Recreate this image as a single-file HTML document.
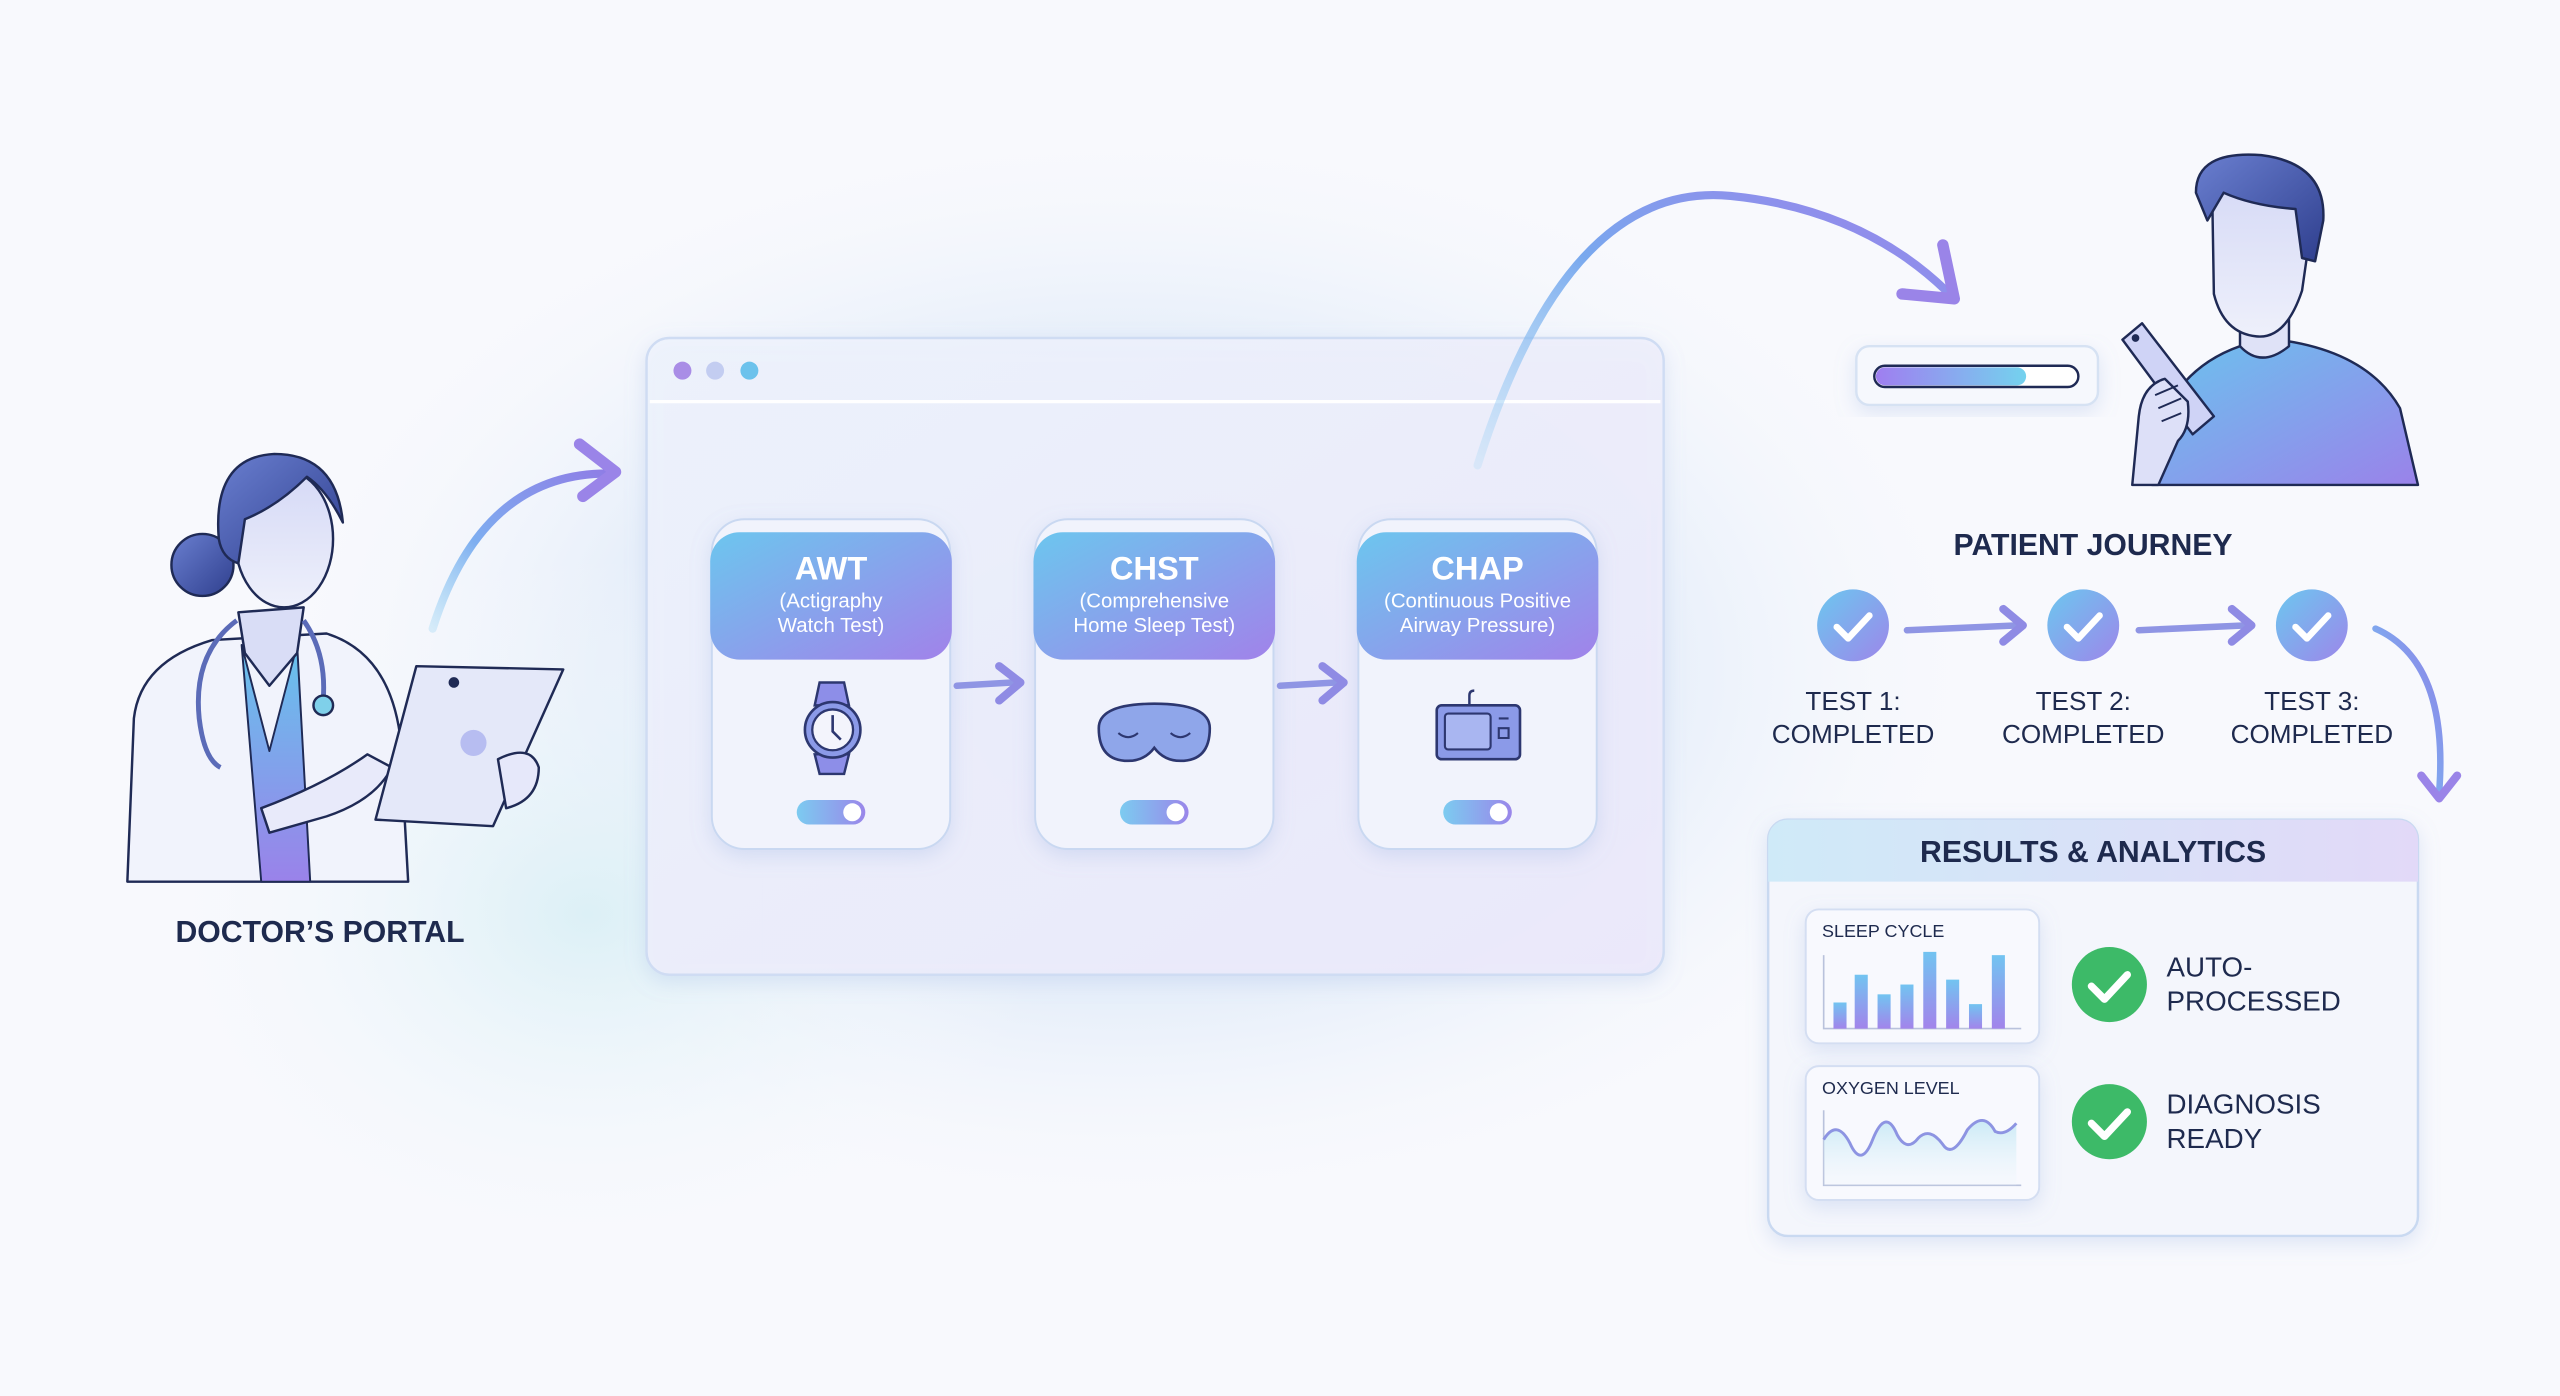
<!DOCTYPE html>
<html><head><meta charset="utf-8"><style>
html,body{margin:0;padding:0;background:#f8f9fd;}
svg{display:block;}
text{font-family:"Liberation Sans",sans-serif;}
</style></head><body>
<svg width="2560" height="1396" viewBox="0 0 1568 855" xmlns="http://www.w3.org/2000/svg">
<defs>
<radialGradient id="glow1" cx="0.5" cy="0.5" r="0.5">
<stop offset="0" stop-color="#d6e7f8" stop-opacity="1"/><stop offset="0.6" stop-color="#e2ecf9" stop-opacity="0.75"/><stop offset="1" stop-color="#f8f9fd" stop-opacity="0"/></radialGradient>
<radialGradient id="glow2" cx="0.5" cy="0.5" r="0.5">
<stop offset="0" stop-color="#dcf0f6" stop-opacity="1"/><stop offset="1" stop-color="#f8f9fd" stop-opacity="0"/></radialGradient>
<linearGradient id="hdr" x1="0" y1="0" x2="1" y2="1"><stop offset="0" stop-color="#6cc6ee"/><stop offset="1" stop-color="#a182ea"/></linearGradient>
<linearGradient id="tog" x1="0" y1="0" x2="1" y2="0"><stop offset="0" stop-color="#7ccbf0"/><stop offset="1" stop-color="#9a86ea"/></linearGradient>
<linearGradient id="prog" x1="0" y1="0" x2="1" y2="0"><stop offset="0" stop-color="#9f7ef0"/><stop offset="1" stop-color="#74d2ee"/></linearGradient>
<linearGradient id="arrowG" x1="0" y1="1" x2="1" y2="0"><stop offset="0" stop-color="#8fd0f3" stop-opacity="0.3"/><stop offset="0.4" stop-color="#7eaef0"/><stop offset="1" stop-color="#8e7ee6"/></linearGradient>
<linearGradient id="arcG" x1="0" y1="1" x2="1" y2="0"><stop offset="0" stop-color="#8fcff3" stop-opacity="0.2"/><stop offset="0.5" stop-color="#79a8ee"/><stop offset="1" stop-color="#9a82ea"/></linearGradient>
<linearGradient id="resHdr" x1="0" y1="0" x2="1" y2="0"><stop offset="0" stop-color="#cfeaf8"/><stop offset="1" stop-color="#e2d9f8"/></linearGradient>
<linearGradient id="bar" x1="0" y1="0" x2="0" y2="1"><stop offset="0" stop-color="#72c4f1"/><stop offset="1" stop-color="#a284eb"/></linearGradient>
<linearGradient id="chk" x1="0" y1="0" x2="1" y2="1"><stop offset="0" stop-color="#6cc7ef"/><stop offset="1" stop-color="#9d86ea"/></linearGradient>
<linearGradient id="shirt" x1="0" y1="0" x2="1" y2="1"><stop offset="0" stop-color="#6ac4ee"/><stop offset="1" stop-color="#9a82ea"/></linearGradient>
<linearGradient id="face" x1="0" y1="0" x2="0" y2="1"><stop offset="0" stop-color="#d5d9f6"/><stop offset="1" stop-color="#eef0fb"/></linearGradient>
<linearGradient id="hair" x1="0" y1="0" x2="1" y2="1"><stop offset="0" stop-color="#6a7fd0"/><stop offset="1" stop-color="#2f3f8e"/></linearGradient>
<linearGradient id="scrub" x1="0" y1="0" x2="0" y2="1"><stop offset="0" stop-color="#66c3ec"/><stop offset="1" stop-color="#9a82ea"/></linearGradient>
<linearGradient id="wave" x1="0" y1="0" x2="0" y2="1"><stop offset="0" stop-color="#bfe6f4" stop-opacity="0.8"/><stop offset="1" stop-color="#eef6fb" stop-opacity="0.2"/></linearGradient>
<linearGradient id="win" x1="0" y1="0" x2="1" y2="1"><stop offset="0" stop-color="#eef3fc"/><stop offset="1" stop-color="#ece9fa"/></linearGradient>
<filter id="sh" x="-20%" y="-20%" width="140%" height="140%"><feDropShadow dx="0" dy="4" stdDeviation="6" flood-color="#8aa6dc" flood-opacity="0.25"/></filter>
</defs>
<rect width="1568" height="855" fill="#f8f9fd"/>
<ellipse cx="690" cy="410" rx="540" ry="340" fill="url(#glow1)"/>
<ellipse cx="360" cy="560" rx="280" ry="220" fill="url(#glow2)"/>

<!-- Browser -->
<rect x="396" y="207" width="623" height="390" rx="14" fill="url(#win)" fill-opacity="0.9" stroke="#cfdcf3" stroke-width="1.5" filter="url(#sh)"/>
<line x1="398" y1="246" x2="1017" y2="246" stroke="#ffffff" stroke-width="2"/>
<circle cx="418" cy="227" r="5.5" fill="#a98de6"/>
<circle cx="438" cy="227" r="5.5" fill="#c3cdf1"/>
<circle cx="459" cy="227" r="5.5" fill="#6cc2ec"/>

<!-- Cards -->
<g>
<rect x="436" y="318" width="146" height="202" rx="20" fill="#f1f3fc" stroke="#c9d8f1" stroke-width="1.2" filter="url(#sh)"/>
<rect x="435" y="326" width="148" height="78" rx="18" fill="url(#hdr)"/>
<text x="509" y="355" text-anchor="middle" font-size="20" font-weight="bold" fill="#fff">AWT</text>
<text x="509" y="372" text-anchor="middle" font-size="12.5" fill="#fff">(Actigraphy</text>
<text x="509" y="387" text-anchor="middle" font-size="12.5" fill="#fff">Watch Test)</text>
<rect x="488" y="490" width="42" height="15" rx="7.5" fill="url(#tog)"/><circle cx="522" cy="497.5" r="5.5" fill="#fff"/>
<path d="M502 418 h15 l3 14 h-21z M499 462 h21 l-3 12 h-15z" fill="#8d8ee8" stroke="#2d3770" stroke-width="1.5"/>
<circle cx="510" cy="447" r="17" fill="#8b9ae8" stroke="#2d3770" stroke-width="1.6"/>
<circle cx="510" cy="447" r="12.5" fill="#f3f4fc" stroke="#2d3770" stroke-width="1.4"/>
<path d="M510 438 v10 l5 5" fill="none" stroke="#2d3770" stroke-width="1.6"/>
</g>
<g>
<rect x="634" y="318" width="146" height="202" rx="20" fill="#f1f3fc" stroke="#c9d8f1" stroke-width="1.2" filter="url(#sh)"/>
<rect x="633" y="326" width="148" height="78" rx="18" fill="url(#hdr)"/>
<text x="707" y="355" text-anchor="middle" font-size="20" font-weight="bold" fill="#fff">CHST</text>
<text x="707" y="372" text-anchor="middle" font-size="12.5" fill="#fff">(Comprehensive</text>
<text x="707" y="387" text-anchor="middle" font-size="12.5" fill="#fff">Home Sleep Test)</text>
<rect x="686" y="490" width="42" height="15" rx="7.5" fill="url(#tog)"/><circle cx="720" cy="497.5" r="5.5" fill="#fff"/>
<path d="M673 446 q0 -15 34 -15 q34 0 34 15 q0 20 -18 20 q-10 0 -16 -8 q-6 8 -16 8 q-18 0 -18 -20z" fill="#8fa6ea" stroke="#2d3770" stroke-width="1.6"/>
<path d="M685 449 q6 5 12 0 M717 449 q6 5 12 0" fill="none" stroke="#2d3770" stroke-width="1.3"/>
</g>
<g>
<rect x="832" y="318" width="146" height="202" rx="20" fill="#f1f3fc" stroke="#c9d8f1" stroke-width="1.2" filter="url(#sh)"/>
<rect x="831" y="326" width="148" height="78" rx="18" fill="url(#hdr)"/>
<text x="905" y="355" text-anchor="middle" font-size="20" font-weight="bold" fill="#fff">CHAP</text>
<text x="905" y="372" text-anchor="middle" font-size="12.5" fill="#fff">(Continuous Positive</text>
<text x="905" y="387" text-anchor="middle" font-size="12.5" fill="#fff">Airway Pressure)</text>
<rect x="884" y="490" width="42" height="15" rx="7.5" fill="url(#tog)"/><circle cx="918" cy="497.5" r="5.5" fill="#fff"/>
<path d="M900 432 v-6 q0 -3 3 -3" fill="none" stroke="#2d3770" stroke-width="1.5"/>
<rect x="880" y="432" width="51" height="33" rx="3" fill="#8b9ae8" stroke="#2d3770" stroke-width="1.6"/>
<rect x="885" y="437" width="28" height="22" rx="2" fill="#a9b6f1" stroke="#2d3770" stroke-width="1.3"/>
<path d="M918 440 h6 M918 446 h6 v6 h-6z" fill="none" stroke="#2d3770" stroke-width="1.3"/>
</g>
<path d="M586 420 L620 418" stroke="#8f95e4" stroke-width="4" stroke-linecap="round"/>
<path d="M612 408 L625 418 L612 429" fill="none" stroke="#8f8be4" stroke-width="5" stroke-linecap="round" stroke-linejoin="round"/>
<path d="M784 420 L818 418" stroke="#8f95e4" stroke-width="4" stroke-linecap="round"/>
<path d="M810 408 L823 418 L810 429" fill="none" stroke="#8f8be4" stroke-width="5" stroke-linecap="round" stroke-linejoin="round"/>

<!-- Big arc -->
<path d="M905 285 Q960 110 1060 120 Q1140 128 1192 178" fill="none" stroke="url(#arcG)" stroke-width="5" stroke-linecap="round"/>
<path d="M1190 150 L1197 183 L1165 180" fill="none" stroke="#9a84e8" stroke-width="7" stroke-linecap="round" stroke-linejoin="round"/>

<!-- Doctor -->
<g stroke="#1f2a55" stroke-width="1.5" stroke-linejoin="round">
<circle cx="124" cy="346" r="19" fill="url(#hair)"/>
<path d="M78 540 L82 440 Q86 405 130 392 L200 388 Q238 400 245 450 L250 540z" fill="#f1f3fc"/>
<path d="M148 395 L165 460 L182 395 L190 540 L160 540z" fill="url(#scrub)" stroke-width="1.2"/>
<path d="M146 375 L150 400 L165 420 L182 400 L186 372z" fill="#d9ddf6"/>
<ellipse cx="174" cy="330" rx="30" ry="42" fill="url(#face)"/>
<path d="M134 330 Q130 280 168 278 Q206 278 210 320 Q200 300 188 292 Q170 310 150 318 L146 345 Q136 342 134 330z" fill="url(#hair)"/>
<path d="M145 380 Q118 400 122 440 Q125 465 135 470 M186 380 Q200 400 198 428" fill="none" stroke="#5b6bb8" stroke-width="3"/>
<circle cx="198" cy="432" r="6" fill="#7fd0ea"/>
<path d="M160 495 Q200 480 225 462 L240 470 Q230 490 200 500 L165 510z" fill="#e8eafa"/>
<path d="M255 408 L345 410 L302 506 L230 502z" fill="#e4e8f9"/>
<circle cx="290" cy="455" r="8" fill="#b7bdf1" stroke="none"/>
<circle cx="278" cy="418" r="2.5" fill="#1f2a55"/>
<path d="M305 465 Q325 455 330 470 Q330 490 310 495z" fill="#e6e8fa"/>
</g>
<path d="M265 385 Q295 290 372 290" fill="none" stroke="url(#arrowG)" stroke-width="5" stroke-linecap="round"/>
<path d="M355 272 L377 289 L357 304" fill="none" stroke="#9a84e8" stroke-width="7" stroke-linecap="round" stroke-linejoin="round"/>
<text x="196" y="577" text-anchor="middle" font-size="18.5" font-weight="bold" fill="#1e2a4e">DOCTOR’S PORTAL</text>

<!-- Progress bar -->
<rect x="1137" y="212" width="148" height="36" rx="8" fill="#f6f8fd" stroke="#d6e2f3" stroke-width="1.5" filter="url(#sh)"/>
<rect x="1148" y="224" width="125" height="13" rx="6.5" fill="#fff" stroke="#1f2a55" stroke-width="1.5"/>
<rect x="1149" y="225" width="92" height="11" rx="5.5" fill="url(#prog)"/>

<!-- Patient -->
<g stroke="#1f2a55" stroke-width="1.5" stroke-linejoin="round">
<path d="M1318 297 L1322 262 Q1335 225 1372 212 L1395 208 Q1450 215 1470 250 L1481 297z" fill="url(#shirt)"/>
<path d="M1372 188 L1372 212 Q1385 226 1402 212 L1402 188z" fill="#dfe2f7"/>
<path d="M1355 120 Q1358 105 1385 108 Q1416 112 1414 150 L1410 178 Q1400 208 1382 206 Q1362 204 1356 180z" fill="url(#face)"/>
<path d="M1345 118 Q1345 92 1385 95 Q1425 100 1423 135 L1418 160 L1410 158 L1406 128 Q1380 126 1362 118 L1352 135z" fill="url(#hair)"/>
<path d="M1300 208 L1312 198 L1356 255 L1343 266z" fill="#cfd3f6"/>
<circle cx="1308" cy="207" r="1.6" fill="#1f2a55"/>
<path d="M1306 297 L1310 255 Q1312 236 1326 232 L1340 246 Q1342 262 1334 270 L1322 297z" fill="#dde0f8"/>
<path d="M1320 242 l14 -6 M1322 250 l14 -6 M1324 258 l12 -5" fill="none" stroke-width="1.2"/>
</g>

<!-- Patient journey -->
<text x="1282" y="340" text-anchor="middle" font-size="18.5" font-weight="bold" fill="#1e2a4e">PATIENT JOURNEY</text>
<g>
<circle cx="1135" cy="383" r="22" fill="url(#chk)"/><path d="M1125 384 l7 7 l13 -14" fill="none" stroke="#fff" stroke-width="4" stroke-linecap="round" stroke-linejoin="round"/>
<circle cx="1276" cy="383" r="22" fill="url(#chk)"/><path d="M1266 384 l7 7 l13 -14" fill="none" stroke="#fff" stroke-width="4" stroke-linecap="round" stroke-linejoin="round"/>
<circle cx="1416" cy="383" r="22" fill="url(#chk)"/><path d="M1406 384 l7 7 l13 -14" fill="none" stroke="#fff" stroke-width="4" stroke-linecap="round" stroke-linejoin="round"/>
<path d="M1168 386 L1236 383" stroke="#8f95e4" stroke-width="4" stroke-linecap="round"/>
<path d="M1227 373 L1239 383 L1227 393" fill="none" stroke="#8f8be4" stroke-width="5" stroke-linecap="round" stroke-linejoin="round"/>
<path d="M1310 386 L1376 383" stroke="#8f95e4" stroke-width="4" stroke-linecap="round"/>
<path d="M1367 373 L1379 383 L1367 393" fill="none" stroke="#8f8be4" stroke-width="5" stroke-linecap="round" stroke-linejoin="round"/>
<path d="M1455 385 Q1500 405 1494 485" fill="none" stroke="url(#arrowG)" stroke-width="4" stroke-linecap="round"/>
<path d="M1483 475 L1494 489 L1505 475" fill="none" stroke="#9a84e8" stroke-width="5" stroke-linecap="round" stroke-linejoin="round"/>
<g font-size="16" fill="#1e2a4e" text-anchor="middle">
<text x="1135" y="435">TEST 1:</text><text x="1135" y="455">COMPLETED</text>
<text x="1276" y="435">TEST 2:</text><text x="1276" y="455">COMPLETED</text>
<text x="1416" y="435">TEST 3:</text><text x="1416" y="455">COMPLETED</text>
</g>
</g>

<!-- Results -->
<rect x="1083" y="502" width="398" height="255" rx="12" fill="#f4f6fc" stroke="#c9d9f1" stroke-width="1.5" filter="url(#sh)"/>
<path d="M1095 502 h374 a12 12 0 0 1 12 12 v26 h-398 v-26 a12 12 0 0 1 12 -12z" fill="url(#resHdr)"/>
<text x="1282" y="528" text-anchor="middle" font-size="18.5" font-weight="bold" fill="#1e2a4e">RESULTS &amp; ANALYTICS</text>
<rect x="1106" y="557" width="143" height="82" rx="8" fill="#f8f9fe" stroke="#d4def2" stroke-width="1.2" filter="url(#sh)"/>
<text x="1116" y="574" font-size="11" fill="#1e2a4e">SLEEP CYCLE</text>
<path d="M1117 585 V630 H1238" fill="none" stroke="#b9c2dc" stroke-width="1"/>
<g fill="url(#bar)">
<rect x="1123" y="614" width="8" height="16"/><rect x="1136" y="597" width="8" height="33"/><rect x="1150" y="609" width="8" height="21"/><rect x="1164" y="603" width="8" height="27"/><rect x="1178" y="583" width="8" height="47"/><rect x="1192" y="600" width="8" height="30"/><rect x="1206" y="615" width="8" height="15"/><rect x="1220" y="585" width="8" height="45"/>
</g>
<rect x="1106" y="653" width="143" height="82" rx="8" fill="#f8f9fe" stroke="#d4def2" stroke-width="1.2" filter="url(#sh)"/>
<text x="1116" y="670" font-size="11" fill="#1e2a4e">OXYGEN LEVEL</text>
<path d="M1117 680 V726 H1238" fill="none" stroke="#b9c2dc" stroke-width="1"/>
<path d="M1117 698 Q1125 685 1133 700 Q1140 716 1147 698 Q1155 678 1162 695 Q1168 706 1175 697 Q1182 690 1190 701 Q1196 710 1205 692 Q1215 680 1222 693 Q1228 696 1235 688 V726 H1117z" fill="url(#wave)"/>
<path d="M1117 698 Q1125 685 1133 700 Q1140 716 1147 698 Q1155 678 1162 695 Q1168 706 1175 697 Q1182 690 1190 701 Q1196 710 1205 692 Q1215 680 1222 693 Q1228 696 1235 688" fill="none" stroke="#8d94e2" stroke-width="1.8"/>
<circle cx="1292" cy="603" r="23" fill="#3dba68"/><path d="M1281 604 l8 8 l14 -15" fill="none" stroke="#fff" stroke-width="4.5" stroke-linecap="round" stroke-linejoin="round"/>
<circle cx="1292" cy="687" r="23" fill="#3dba68"/><path d="M1281 688 l8 8 l14 -15" fill="none" stroke="#fff" stroke-width="4.5" stroke-linecap="round" stroke-linejoin="round"/>
<g font-size="17" fill="#1e2a4e">
<text x="1327" y="598">AUTO-</text><text x="1327" y="619">PROCESSED</text>
<text x="1327" y="682">DIAGNOSIS</text><text x="1327" y="703">READY</text>
</g>
</svg>
</body></html>
